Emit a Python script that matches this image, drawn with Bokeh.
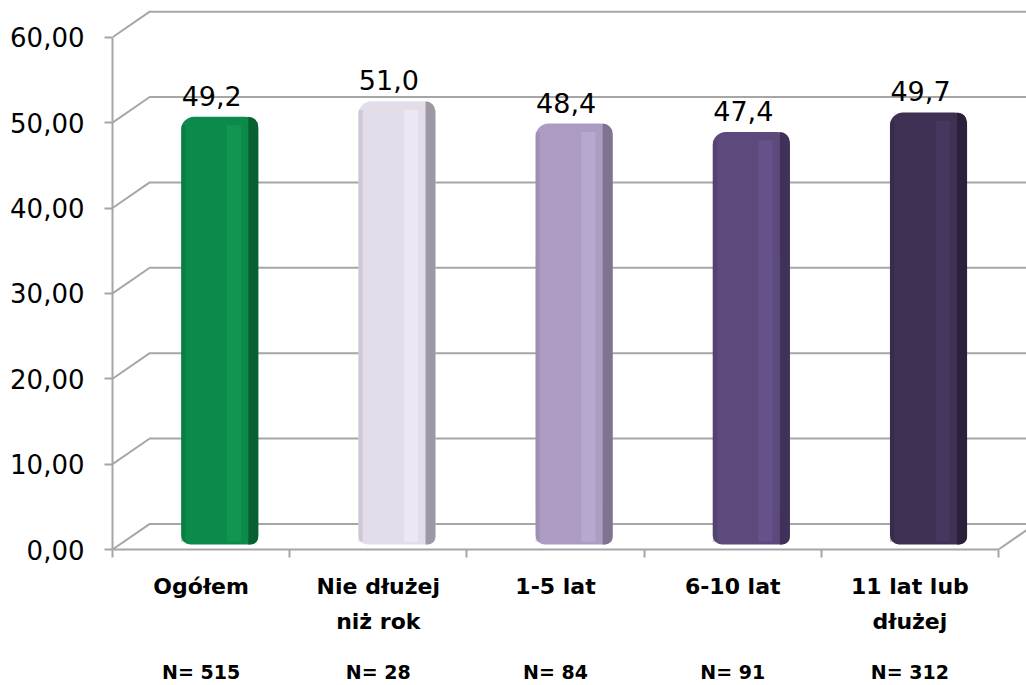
from bokeh.plotting import figure
from bokeh.models import Range1d, FixedTicker, LinearAxis, ColumnDataSource, LabelSet
from bokeh.core.properties import value
from bokeh.embed import file_html
from bokeh.resources import INLINE

# ---- data ----
categories = ["Ogółem", "Nie dłużej\nniż rok", "1-5 lat", "6-10 lat", "11 lat lub\ndłużej"]
sample_sizes = ["N= 515", "N= 28", "N= 84", "N= 91", "N= 312"]
values = [49.2, 51.0, 48.4, 47.4, 49.7]
value_labels = ["49,2", "51,0", "48,4", "47,4", "49,7"]
y_ticks = [0, 10, 20, 30, 40, 50, 60]
y_tick_labels = ["0,00", "10,00", "20,00", "30,00", "40,00", "50,00", "60,00"]

# ---- styles ----
bar_colors = ["#0B8A4B", "#E3DDEA", "#AC9CC4", "#5D4A7C", "#3F3153"]
edge_colors = ["#06602F", "#9D98A4", "#7E7390", "#3F3157", "#29203A"]
light_colors = ["#11964F", "#ECE7F2", "#B7A8D0", "#66528A", "#46375E"]
GRID = "#A6A6A6"
FONT = "DejaVu Sans"
DX = 0.21   # depth offset (category units)
DY = 3.0    # depth offset (value units)
BAR_W = 0.435

n = len(categories)
centers = [i + 0.5 for i in range(n)]

p = figure(width=1026, height=685,
           x_range=Range1d(0, 5.158), y_range=Range1d(0, 64.31),
           output_backend="svg", toolbar_location=None,
           x_axis_location=None, y_axis_location=None,
           min_border_left=112, min_border_right=0,
           min_border_top=0, min_border_bottom=133)
p.grid.visible = False
p.outline_line_color = None

# back wall / floor lines (pseudo-3D)
xs, ys = [], []
for v in y_ticks:
    xs.append([0, DX, n + DX + 1]); ys.append([v, v + DY, v + DY])
xs.append([n, n + DX]); ys.append([0, DY])
p.multi_line(xs, ys, line_color=GRID, line_width=2)

# bars
bx = [c + DX / 2 for c in centers]
tops = [v + DY / 2 for v in values]
src = ColumnDataSource(dict(
    x=bx, top=tops, color=bar_colors, edge=edge_colors, light=light_colors,
    xr=[x + BAR_W / 2 - 0.028 for x in bx],
    xl=[x - BAR_W / 2 + 0.012 for x in bx],
    xh=[x + 0.08 for x in bx],
    toph=[t - 1.0 for t in tops],
    label=value_labels,
))
p.vbar(x="x", width=BAR_W, bottom=0.6, top="top", fill_color="color",
       line_color=None, border_radius=(13, 13, 9, 9), source=src)
p.vbar(x="xh", width=0.08, bottom=0.9, top="toph", fill_color="light",
       line_color=None, source=src)
p.vbar(x="xl", width=0.024, bottom=0.9, top="toph", fill_color="edge",
       fill_alpha=0.3, line_color=None, source=src)
p.vbar(x="xr", width=0.056, bottom=0.6, top="top", fill_color="edge",
       line_color=None, border_radius=(0, 11, 8, 0), source=src)

# value labels
p.add_layout(LabelSet(x="x", y="top", text="label", source=src,
                      x_offset=-8, y_offset=11, text_align="center",
                      text_baseline="alphabetic", text_font=value(FONT),
                      text_font_size="27px", text_color="black"))

# y axis (front)
yaxis = LinearAxis(
    ticker=FixedTicker(ticks=y_ticks, minor_ticks=[]),
    major_label_overrides={t: l for t, l in zip(y_ticks, y_tick_labels)},
    bounds=(0, 60),
    axis_line_color=GRID, axis_line_width=2,
    major_tick_line_color=GRID, major_tick_line_width=2,
    major_tick_in=0, major_tick_out=8,
    minor_tick_line_color=None,
    major_label_text_font=FONT, major_label_text_font_size="26px",
    major_label_text_color="black", major_label_standoff=20)
p.add_layout(yaxis, "left")

# x axis (front floor edge) with category labels
xaxis = LinearAxis(
    ticker=FixedTicker(ticks=centers, minor_ticks=list(range(n + 1))),
    major_label_overrides={c: l for c, l in zip(centers, categories)},
    bounds=(0, n),
    axis_line_color=GRID, axis_line_width=2,
    major_tick_line_color=None, major_tick_in=0, major_tick_out=0,
    minor_tick_line_color=GRID, minor_tick_line_width=2,
    minor_tick_in=0, minor_tick_out=8,
    major_label_text_font=FONT, major_label_text_font_style="bold",
    major_label_text_font_size="22px", major_label_text_color="black",
    major_label_text_line_height=1.4,
    major_label_standoff=16)
p.add_layout(xaxis, "below")

# sample sizes row
naxis = LinearAxis(
    ticker=FixedTicker(ticks=centers, minor_ticks=[]),
    major_label_overrides={c: l for c, l in zip(centers, sample_sizes)},
    axis_line_color=None, major_tick_line_color=None,
    minor_tick_line_color=None, major_tick_in=0, major_tick_out=0,
    major_label_text_font=FONT, major_label_text_font_style="bold",
    major_label_text_font_size="19px", major_label_text_color="black",
    major_label_standoff=24)
p.add_layout(naxis, "below")

open("out.html", "w").write(file_html(p, INLINE))
